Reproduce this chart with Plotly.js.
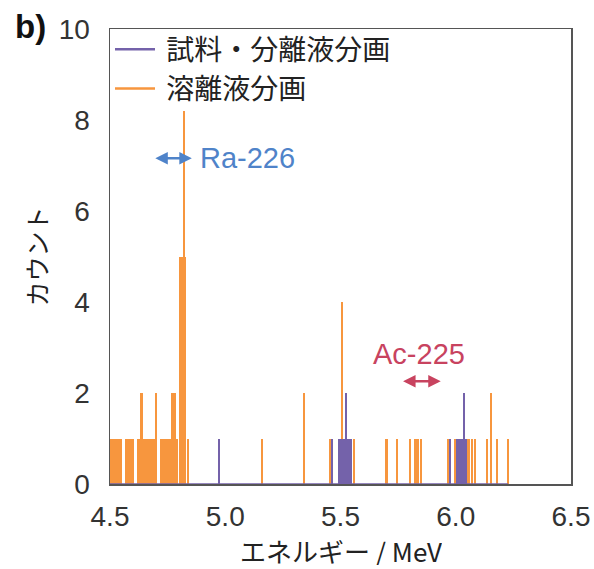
<!DOCTYPE html>
<html>
<head>
<meta charset="utf-8">
<script src="https://cdn.plot.ly/plotly-3.0.1.min.js"></script>
<style>html,body{margin:0;padding:0;background:#fff;}#chart{width:594px;height:569px;}</style>
</head>
<body>
<div id="chart"></div>
<script>
// ---- data ----
const seriesNames = ['試料・分離液分画', '溶離液分画'];
const purpleE = [4.973, 5.462, 5.495, 5.505, 5.515, 5.525, 5.535, 5.545, 5.975, 6.005, 6.015, 6.025, 6.035, 6.045];
const purpleC = [1, 1, 1, 1, 1, 2, 1, 1, 1, 1, 1, 1, 2, 1];
const orangeE = [4.505, 4.515, 4.525, 4.535, 4.545, 4.570, 4.580, 4.590, 4.600, 4.620, 4.630, 4.636, 4.645, 4.655,
                 4.665, 4.675, 4.685, 4.695, 4.700, 4.722, 4.732, 4.742, 4.752, 4.762, 4.770, 4.780, 4.790,
                 4.805, 4.815, 4.820, 4.826, 4.838,
                 5.158, 5.341, 5.455, 5.507, 5.560, 5.700, 5.745, 5.800, 5.825, 5.835, 5.850,
                 5.968, 5.998, 6.055, 6.070, 6.085, 6.137, 6.154, 6.180, 6.227];
const orangeC = [1, 1, 1, 1, 1, 1, 1, 1, 1, 1, 1, 2, 1, 1,
                 1, 1, 1, 1, 2, 1, 1, 1, 1, 1, 2, 2, 1,
                 5, 5, 8.2, 5, 1,
                 1, 2, 1, 4, 1, 1, 1, 1, 1, 1, 1,
                 1, 1, 1, 1, 1, 1, 2, 1, 1];
const xTicks = [4.5, 5.0, 5.5, 6.0, 6.5];
const yTicks = [0, 2, 4, 6, 8, 10];
const xTitle = 'エネルギー / MeV';
const yTitle = 'カウント';
const labels = {ra: 'Ra-226', ac: 'Ac-225', raE: [4.69, 4.855], raY: 7.16, acE: [5.765, 5.935], acY: 2.26};

// ---- styles ----
const purple = '#7462aa';
const orange = '#f7963e';
const binW = 0.01;
const xRange = [4.5, 6.5];

const traces = [
  {type: 'scatter', mode: 'lines', x: [xRange[0], Math.max(...orangeE)], y: [0, 0],
   line: {color: purple, width: 1.5}, showlegend: false, hoverinfo: 'skip'},
  {type: 'bar', x: orangeE, y: orangeC, width: binW, marker: {color: orange, line: {width: 0}},
   showlegend: false},
  {type: 'bar', x: purpleE, y: purpleC, width: binW, marker: {color: purple, line: {width: 0}},
   showlegend: false},
  {type: 'scatter', mode: 'lines', x: [null], y: [null], name: '\u00a0' + seriesNames[0],
   line: {color: purple, width: 2.5}, legendrank: 1},
  {type: 'scatter', mode: 'lines', x: [null], y: [null], name: '\u00a0' + seriesNames[1],
   line: {color: orange, width: 2.5}, legendrank: 2}
];

const numFont = 'Liberation Sans, Arial, sans-serif';
const jpFont = 'Noto Sans CJK JP, sans-serif';

const layout = {
  width: 594, height: 569,
  margin: {l: 110, r: 23, t: 29, b: 85},
  paper_bgcolor: '#fff', plot_bgcolor: '#fff',
  barmode: 'overlay', bargap: 0,
  showlegend: true,
  legend: {x: 0.0, y: 1.01, xanchor: 'left', yanchor: 'top', bgcolor: 'rgba(0,0,0,0)',
           font: {family: jpFont, size: 28, color: '#222'}, tracegroupgap: 0, itemwidth: 40},
  xaxis: {range: xRange, tickvals: xTicks, ticktext: xTicks.map(v => v.toFixed(1)),
          showgrid: false, zeroline: false, showline: true, mirror: true,
          linecolor: '#555', linewidth: 1.5, ticks: '', ticklabelstandoff: 7,
          tickfont: {family: numFont, size: 28, color: '#333'}},
  yaxis: {range: [0, 10], tickvals: yTicks, ticktext: yTicks.map(String),
          showgrid: false, zeroline: false, showline: true, mirror: true,
          linecolor: '#555', linewidth: 1.5, ticks: '', ticklabelstandoff: 13,
          tickfont: {family: numFont, size: 28, color: '#333'},
          title: {text: yTitle, font: {family: jpFont, size: 25, color: '#222'}, standoff: 4}},
  annotations: [
    {xref: 'paper', yref: 'paper', x: 0.5, y: -0.145, xanchor: 'center', yanchor: 'middle', height: 30,
     text: xTitle, showarrow: false, font: {family: jpFont, size: 26, color: '#222'}},
    {xref: 'paper', yref: 'paper', x: -0.21, y: 1.005, xanchor: 'left', yanchor: 'middle',
     text: '<b>b)</b>', showarrow: false, font: {family: numFont, size: 33, color: '#111'}},
    {xref: 'x', yref: 'y', axref: 'x', ayref: 'y', x: labels.raE[1], y: labels.raY, ax: labels.raE[0], ay: labels.raY,
     showarrow: true, arrowhead: 2, arrowside: 'end+start', arrowsize: 1, arrowwidth: 2.5, arrowcolor: '#4f83c9', text: ''},
    {xref: 'x', yref: 'y', x: labels.raE[1] + 0.025, y: labels.raY, xanchor: 'left', yanchor: 'middle',
     text: labels.ra, showarrow: false, font: {family: numFont, size: 29, color: '#4f83c9'}},
    {xref: 'x', yref: 'y', axref: 'x', ayref: 'y', x: labels.acE[1], y: labels.acY, ax: labels.acE[0], ay: labels.acY,
     showarrow: true, arrowhead: 2, arrowside: 'end+start', arrowsize: 1, arrowwidth: 2.5, arrowcolor: '#c8435f', text: ''},
    {xref: 'x', yref: 'y', x: (labels.acE[0] + labels.acE[1]) / 2 - 0.01, y: labels.acY + 0.6, xanchor: 'center', yanchor: 'middle',
     text: labels.ac, showarrow: false, font: {family: numFont, size: 29, color: '#c8435f'}}
  ]
};

Plotly.newPlot('chart', traces, layout, {staticPlot: true, displayModeBar: false});
</script>
</body>
</html>
